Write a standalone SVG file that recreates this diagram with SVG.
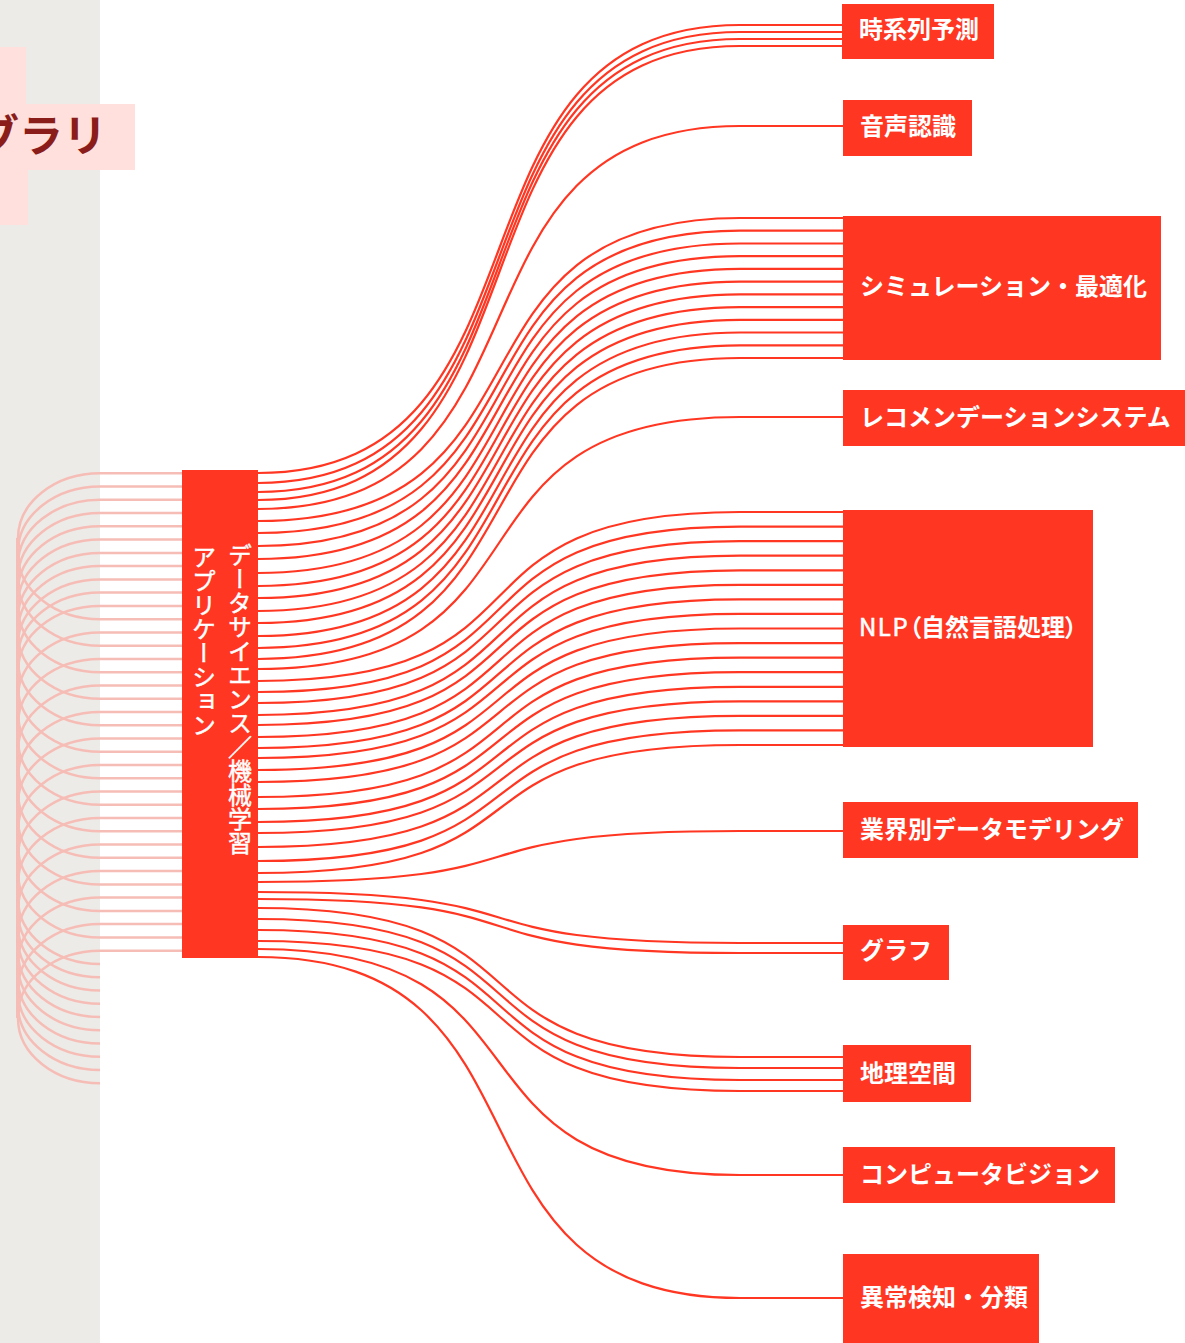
<svg xmlns="http://www.w3.org/2000/svg" width="1185" height="1343" viewBox="0 0 1185 1343">
<style>
.red{fill:#ff3622}
.lbl{font-family:"Noto Sans CJK JP",sans-serif;font-size:24px;font-weight:700;fill:#ffffff}
.ctr{font-family:"Noto Sans CJK JP",sans-serif;font-size:24px;font-weight:400;fill:#ffffff;stroke:#ffffff;stroke-width:0.5;writing-mode:vertical-rl}
.pk{fill:none;stroke:#f6bdb6;stroke-width:2.5}
.rl{fill:none;stroke:#ff3622;stroke-width:2.2}
</style>
<rect x="0" y="0" width="100" height="1343" fill="#edebe7"/>
<g id="library">
<rect x="0" y="47" width="26" height="60" fill="#ffe0dc"/>
<rect x="0" y="168" width="28" height="57" fill="#ffe0dc"/>
<rect x="0" y="104" width="135" height="66" fill="#ffe0dc"/>
<text x="-25" y="152" font-family="'Noto Sans CJK JP',sans-serif" font-size="44" font-weight="700" fill="#8a1c1a">ブラリ</text>
</g>
<g id="connectors">
<g id="in-links">
<path class="pk" d="M182,473.3H100C55,473.3 18,502.3 18,538.3V1018"/>
<path class="pk" d="M182,486.6H100C55,486.6 18,515.6 18,551.6V1018"/>
<path class="pk" d="M182,499.8H100C55,499.8 18,528.8 18,564.8V1018"/>
<path class="pk" d="M182,513.1H100C55,513.1 18,542.1 18,578.1V1018"/>
<path class="pk" d="M182,526.3H100C55,526.3 18,555.3 18,591.3V1018"/>
<path class="pk" d="M182,539.6H100C55,539.6 18,568.6 18,604.6V1018"/>
<path class="pk" d="M182,552.9H100C55,552.9 18,581.9 18,617.9V1018"/>
<path class="pk" d="M182,566.1H100C55,566.1 18,595.1 18,631.1V1018"/>
<path class="pk" d="M182,579.4H100C55,579.4 18,608.4 18,644.4V1018"/>
<path class="pk" d="M182,592.6H100C55,592.6 18,621.6 18,657.6V1018"/>
<path class="pk" d="M182,605.9H100C55,605.9 18,634.9 18,670.9V1018"/>
<path class="pk" d="M182,619.2H100C55,619.2 18,590.2 18,554.2V538"/>
<path class="pk" d="M182,632.4H100C55,632.4 18,661.4 18,697.4V1018"/>
<path class="pk" d="M182,645.7H100C55,645.7 18,616.7 18,580.7V538"/>
<path class="pk" d="M182,658.9H100C55,658.9 18,687.9 18,723.9V1018"/>
<path class="pk" d="M182,672.2H100C55,672.2 18,643.2 18,607.2V538"/>
<path class="pk" d="M182,685.5H100C55,685.5 18,714.5 18,750.5V1018"/>
<path class="pk" d="M182,698.7H100C55,698.7 18,669.7 18,633.7V538"/>
<path class="pk" d="M182,712H100C55,712 18,741 18,777V1018"/>
<path class="pk" d="M182,725.2H100C55,725.2 18,696.2 18,660.2V538"/>
<path class="pk" d="M182,738.5H100C55,738.5 18,767.5 18,803.5V1018"/>
<path class="pk" d="M182,751.8H100C55,751.8 18,722.8 18,686.8V538"/>
<path class="pk" d="M182,765H100C55,765 18,794 18,830V1018"/>
<path class="pk" d="M182,778.3H100C55,778.3 18,749.3 18,713.3V538"/>
<path class="pk" d="M182,791.5H100C55,791.5 18,820.5 18,856.5V1018"/>
<path class="pk" d="M182,804.8H100C55,804.8 18,775.8 18,739.8V538"/>
<path class="pk" d="M182,818.1H100C55,818.1 18,847.1 18,883.1V1018"/>
<path class="pk" d="M182,831.3H100C55,831.3 18,802.3 18,766.3V538"/>
<path class="pk" d="M182,844.6H100C55,844.6 18,873.6 18,909.6V1018"/>
<path class="pk" d="M182,857.8H100C55,857.8 18,828.8 18,792.8V538"/>
<path class="pk" d="M182,871.1H100C55,871.1 18,900.1 18,936.1V1018"/>
<path class="pk" d="M182,884.4H100C55,884.4 18,855.4 18,819.4V538"/>
<path class="pk" d="M182,897.6H100C55,897.6 18,926.6 18,962.6V1018"/>
<path class="pk" d="M182,910.9H100C55,910.9 18,881.9 18,845.9V538"/>
<path class="pk" d="M182,924.1H100C55,924.1 18,953.1 18,989.1V1018"/>
<path class="pk" d="M182,937.4H100C55,937.4 18,908.4 18,872.4V538"/>
<path class="pk" d="M182,950.7H100C55,950.7 18,979.7 18,1015.7V1018"/>
<path class="pk" d="M100,963.9C55,963.9 18,934.9 18,898.9V538"/>
<path class="pk" d="M100,977.2C55,977.2 18,948.2 18,912.2V538"/>
<path class="pk" d="M100,990.4C55,990.4 18,961.4 18,925.4V538"/>
<path class="pk" d="M100,1003.7C55,1003.7 18,974.7 18,938.7V538"/>
<path class="pk" d="M100,1017C55,1017 18,988 18,952V538"/>
<path class="pk" d="M100,1030.2C55,1030.2 18,1001.2 18,965.2V538"/>
<path class="pk" d="M100,1043.5C55,1043.5 18,1014.5 18,978.5V538"/>
<path class="pk" d="M100,1056.7C55,1056.7 18,1027.7 18,991.7V538"/>
<path class="pk" d="M100,1070C55,1070 18,1041 18,1005V538"/>
<path class="pk" d="M100,1083.3C55,1083.3 18,1054.3 18,1018.3V538"/>
</g>
<g id="out-links">
<path class="rl" d="M258,473C571,473 427,25 740,25H843"/>
<path class="rl" d="M258,483C571,483 427,32 740,32H843"/>
<path class="rl" d="M258,492C571,492 427,39 740,39H843"/>
<path class="rl" d="M258,500C571,500 427,46 740,46H843"/>
<path class="rl" d="M258,509C571,509 427,126 740,126H843"/>
<path class="rl" d="M258,521C571,521 427,218 740,218H843"/>
<path class="rl" d="M258,533C571,533 427,230.7 740,230.7H843"/>
<path class="rl" d="M258,546C571,546 427,243.5 740,243.5H843"/>
<path class="rl" d="M258,559C571,559 427,256.2 740,256.2H843"/>
<path class="rl" d="M258,573C571,573 427,268.9 740,268.9H843"/>
<path class="rl" d="M258,586C571,586 427,281.6 740,281.6H843"/>
<path class="rl" d="M258,598C571,598 427,294.4 740,294.4H843"/>
<path class="rl" d="M258,611C571,611 427,307.1 740,307.1H843"/>
<path class="rl" d="M258,623C571,623 427,319.8 740,319.8H843"/>
<path class="rl" d="M258,636C571,636 427,332.5 740,332.5H843"/>
<path class="rl" d="M258,648C571,648 427,345.3 740,345.3H843"/>
<path class="rl" d="M258,659C571,659 427,358 740,358H843"/>
<path class="rl" d="M258,669C571,669 427,417 740,417H843"/>
<path class="rl" d="M258,681C571,681 427,512 740,512H843"/>
<path class="rl" d="M258,692C571,692 427,526.6 740,526.6H843"/>
<path class="rl" d="M258,703C571,703 427,541.1 740,541.1H843"/>
<path class="rl" d="M258,715C571,715 427,555.7 740,555.7H843"/>
<path class="rl" d="M258,725C571,725 427,570.3 740,570.3H843"/>
<path class="rl" d="M258,737C571,737 427,584.8 740,584.8H843"/>
<path class="rl" d="M258,748C571,748 427,599.4 740,599.4H843"/>
<path class="rl" d="M258,758C571,758 427,613.9 740,613.9H843"/>
<path class="rl" d="M258,770C571,770 427,628.5 740,628.5H843"/>
<path class="rl" d="M258,782C571,782 427,643.1 740,643.1H843"/>
<path class="rl" d="M258,797C571,797 427,657.6 740,657.6H843"/>
<path class="rl" d="M258,809C571,809 427,672.2 740,672.2H843"/>
<path class="rl" d="M258,822C571,822 427,686.8 740,686.8H843"/>
<path class="rl" d="M258,833C571,833 427,701.3 740,701.3H843"/>
<path class="rl" d="M258,847C571,847 427,715.9 740,715.9H843"/>
<path class="rl" d="M258,861C571,861 427,730.4 740,730.4H843"/>
<path class="rl" d="M258,873C571,873 427,745 740,745H843"/>
<path class="rl" d="M258,882C571,882 427,831 740,831H843"/>
<path class="rl" d="M258,892C571,892 427,943 740,943H843"/>
<path class="rl" d="M258,899C571,899 427,953 740,953H843"/>
<path class="rl" d="M258,908C571,908 427,1057 740,1057H843"/>
<path class="rl" d="M258,919C571,919 427,1068 740,1068H843"/>
<path class="rl" d="M258,930C571,930 427,1080 740,1080H843"/>
<path class="rl" d="M258,941C571,941 427,1091 740,1091H843"/>
<path class="rl" d="M258,949C571,949 427,1175 740,1175H843"/>
<path class="rl" d="M258,957C571,957 427,1298 740,1298H843"/>
</g>
</g>
<g id="center">
<rect class="red" x="182" y="470" width="76" height="488"/>
<text class="ctr" x="240" y="543">データサイエンス／機械学習</text>
<text class="ctr" x="204" y="545">アプリケーション</text>
</g>
<g id="t-timeseries"><rect class="red" x="842" y="4" width="152" height="55"/><text class="lbl" x="859" y="37.5">時系列予測</text></g>
<g id="t-speech"><rect class="red" x="843" y="100" width="129" height="56"/><text class="lbl" x="860" y="135">音声認識</text></g>
<g id="t-simulation"><rect class="red" x="843" y="216" width="318" height="144"/><text class="lbl" x="860" y="295">シミュレーション・最適化</text></g>
<g id="t-recommend"><rect class="red" x="843" y="390" width="342" height="56"/><text class="lbl" x="860" y="426">レコメンデーションシステム</text></g>
<g id="t-nlp"><rect class="red" x="843" y="510" width="250" height="237"/><text class="lbl" x="859" y="636" style="font-feature-settings:'palt'"><tspan font-weight="400" stroke="#ffffff" stroke-width="0.6" letter-spacing="1.5">NLP</tspan>（自然言語処理）</text></g>
<g id="t-industry"><rect class="red" x="843" y="802" width="295" height="56"/><text class="lbl" x="860" y="838">業界別データモデリング</text></g>
<g id="t-graph"><rect class="red" x="843" y="925" width="106" height="55"/><text class="lbl" x="860" y="959">グラフ</text></g>
<g id="t-geo"><rect class="red" x="843" y="1045" width="128" height="57"/><text class="lbl" x="860" y="1082">地理空間</text></g>
<g id="t-cv"><rect class="red" x="843" y="1147" width="272" height="56"/><text class="lbl" x="860" y="1183">コンピュータビジョン</text></g>
<g id="t-anomaly"><rect class="red" x="843" y="1254" width="196" height="89"/><text class="lbl" x="860" y="1306">異常検知・分類</text></g>
</svg>
